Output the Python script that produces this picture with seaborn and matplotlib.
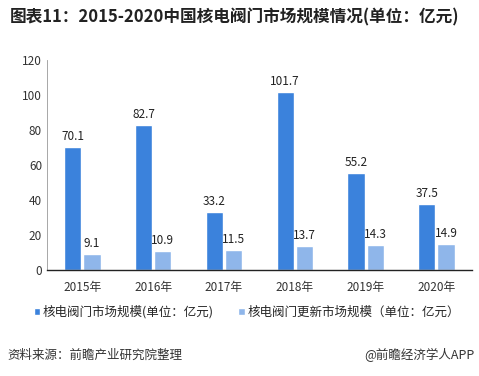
import pandas as pd
import matplotlib.pyplot as plt
import seaborn as sns

years = ['2015年', '2016年', '2017年', '2018年', '2019年', '2020年']
market = [70.1, 82.7, 33.2, 101.7, 55.2, 37.5]
renewal = [9.1, 10.9, 11.5, 13.7, 14.3, 14.9]
series_names = ['核电阀门市场规模(单位：亿元)', '核电阀门更新市场规模（单位：亿元）']

df = pd.DataFrame({'year': years * 2,
                   'value': market + renewal,
                   'series': [series_names[0]] * 6 + [series_names[1]] * 6})

sns.set_style('white')
plt.rcParams['font.family'] = ['Noto Sans CJK SC', 'DejaVu Sans']

fig = plt.figure(figsize=(4.79, 3.76), dpi=100)
ax = fig.add_axes([0.098, 0.282, 0.887, 0.558])

sns.barplot(data=df, x='year', y='value', hue='series', saturation=1,
            palette=['#3b82dc', '#8fb6ea'], width=0.54, gap=0.1, ax=ax)

for cont in ax.containers:
    ax.bar_label(cont, fmt='%.1f', padding=3, fontsize=8.5, color='#222222')

ax.set_ylim(0, 120)
ax.set_yticks(range(0, 121, 20))
ax.set_xlabel('')
ax.set_ylabel('')
ax.tick_params(axis='both', labelsize=8.5, colors='#333333', length=0)
ax.tick_params(axis='x', pad=8)
for s in ['top', 'right']:
    ax.spines[s].set_visible(False)
ax.spines['left'].set_color('#999999')
ax.spines['left'].set_linewidth(0.6)
ax.spines['bottom'].set_color('#222222')
ax.spines['bottom'].set_linewidth(1.0)

ax.legend(loc='upper center', bbox_to_anchor=(0.47, -0.115), ncol=2, frameon=False,
          fontsize=9, handlelength=0.5, handleheight=0.5, handletextpad=0.2,
          columnspacing=2.0)

fig.text(0.02, 0.955, '图表11：2015-2020中国核电阀门市场规模情况(单位：亿元)',
         fontsize=12, fontweight='bold', va='center', color='#222222')
fig.text(0.015, 0.055, '资料来源：前瞻产业研究院整理', fontsize=9, va='center', color='#333333')
fig.text(0.99, 0.055, '@前瞻经济学人APP', fontsize=9, va='center', ha='right', color='#333333')

fig.savefig('out.png', dpi=100)
